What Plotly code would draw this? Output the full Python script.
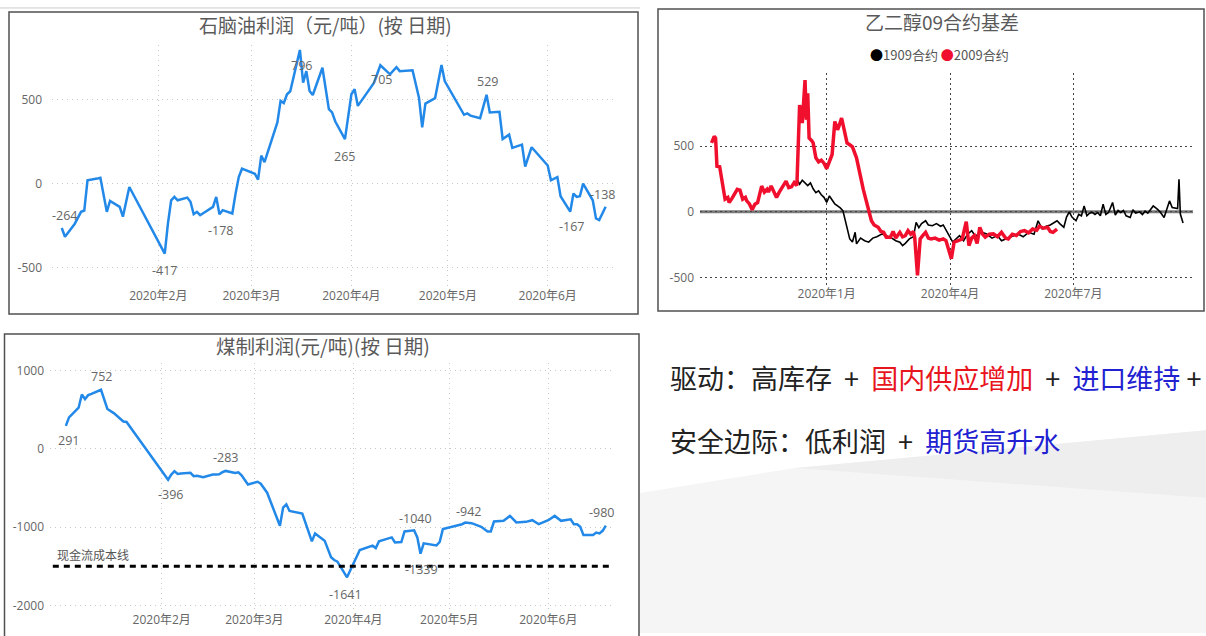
import plotly.graph_objects as go
import pandas as pd

W, H = 1206, 636

# ---------------- data ----------------
# 石脑油利润 (元/吨)
naphtha_dates = [
    "2020-01-02", "2020-01-03", "2020-01-06", "2020-01-07", "2020-01-08", "2020-01-09", "2020-01-10", "2020-01-13", "2020-01-14", "2020-01-16",
    "2020-01-17", "2020-01-20", "2020-01-21", "2020-01-23", "2020-02-03", "2020-02-04", "2020-02-05", "2020-02-06", "2020-02-07", "2020-02-10",
    "2020-02-11", "2020-02-12", "2020-02-13", "2020-02-14", "2020-02-17", "2020-02-18", "2020-02-19", "2020-02-20", "2020-02-21", "2020-02-24",
    "2020-02-25", "2020-02-26", "2020-02-27", "2020-03-02", "2020-03-03", "2020-03-04", "2020-03-05", "2020-03-09", "2020-03-10", "2020-03-11",
    "2020-03-12", "2020-03-13", "2020-03-16", "2020-03-17", "2020-03-18", "2020-03-19", "2020-03-20", "2020-03-23", "2020-03-25", "2020-03-26",
    "2020-03-27", "2020-03-30", "2020-04-01", "2020-04-02", "2020-04-03", "2020-04-07", "2020-04-08", "2020-04-10", "2020-04-13", "2020-04-15",
    "2020-04-16", "2020-04-20", "2020-04-22", "2020-04-23", "2020-04-24", "2020-04-27", "2020-04-29", "2020-04-30", "2020-05-06", "2020-05-07",
    "2020-05-08", "2020-05-11", "2020-05-13", "2020-05-14", "2020-05-17", "2020-05-18", "2020-05-20", "2020-05-21", "2020-05-24", "2020-05-25",
    "2020-05-27", "2020-06-01", "2020-06-02", "2020-06-04", "2020-06-05", "2020-06-08", "2020-06-09", "2020-06-10", "2020-06-11", "2020-06-12",
    "2020-06-15", "2020-06-16", "2020-06-17", "2020-06-19",
]
naphtha_values = [
    -264, -316, -240, -200, -168, -160, 20, 30, 35, -168,
    -103, -138, -197, -20, -417, -237, -99, -79, -99, -83,
    -108, -182, -168, -188, -148, -138, -79, -182, -158, -178,
    -60, 39, 89, 59, 24, 167, 128, 365, 493, 480,
    532, 550, 796, 601, 670, 552, 528, 690, 444, 424,
    370, 265, 532, 562, 463, 572, 600, 705, 651, 694,
    670, 675, 512, 335, 477, 509, 706, 611, 410, 418,
    405, 390, 529, 424, 428, 266, 292, 213, 232, 102,
    217, 108, 20, 39, -75, -167, -59, -79, -75, 0,
    -99, -207, -217, -138,
]

# 煤制利润 (元/吨)
coal_dates = [
    "2020-01-02", "2020-01-03", "2020-01-06", "2020-01-07", "2020-01-08", "2020-01-09", "2020-01-10", "2020-01-13", "2020-01-15", "2020-01-17",
    "2020-01-20", "2020-01-21", "2020-02-03", "2020-02-04", "2020-02-05", "2020-02-06", "2020-02-07", "2020-02-10", "2020-02-11", "2020-02-12",
    "2020-02-14", "2020-02-17", "2020-02-18", "2020-02-19", "2020-02-20", "2020-02-21", "2020-02-24", "2020-02-25", "2020-02-26", "2020-02-28",
    "2020-03-02", "2020-03-03", "2020-03-05", "2020-03-09", "2020-03-10", "2020-03-11", "2020-03-12", "2020-03-13", "2020-03-16", "2020-03-19",
    "2020-03-20", "2020-03-23", "2020-03-25", "2020-03-26", "2020-03-27", "2020-03-30", "2020-03-31", "2020-04-03", "2020-04-07", "2020-04-08",
    "2020-04-09", "2020-04-13", "2020-04-14", "2020-04-16", "2020-04-17", "2020-04-20", "2020-04-21", "2020-04-22", "2020-04-23", "2020-04-27",
    "2020-04-28", "2020-04-29", "2020-05-05", "2020-05-06", "2020-05-08", "2020-05-11", "2020-05-13", "2020-05-14", "2020-05-15", "2020-05-18",
    "2020-05-20", "2020-05-22", "2020-05-25", "2020-05-27", "2020-05-29", "2020-06-01", "2020-06-03", "2020-06-05", "2020-06-08", "2020-06-09",
    "2020-06-10", "2020-06-11", "2020-06-12", "2020-06-15", "2020-06-16", "2020-06-17", "2020-06-18", "2020-06-19",
]
coal_values = [
    291, 400, 524, 693, 634, 684, 700, 752, 507, 455,
    347, 342, -396, -330, -287, -321, -315, -308, -350, -345,
    -363, -329, -330, -325, -300, -283, -308, -300, -338, -456,
    -422, -447, -561, -983, -751, -709, -793, -800, -827, -1182,
    -1081, -1173, -1385, -1420, -1440, -1641, -1553, -1292, -1237, -1267,
    -1182, -1131, -1195, -1190, -1055, -1040, -1131, -1339, -1207, -1233,
    -1190, -1026, -963, -942, -950, -996, -1055, -1055, -929, -920,
    -857, -941, -933, -912, -963, -912, -857, -920, -900, -963,
    -963, -996, -1102, -1102, -1070, -1080, -1047, -980,
]
cash_cost_line = -1500

# 乙二醇09合约基差
basis2009_dates = [
    "2019-10-08", "2019-10-10", "2019-10-11", "2019-10-12", "2019-10-14", "2019-10-16", "2019-10-18", "2019-10-20", "2019-10-21", "2019-10-23",
    "2019-10-24", "2019-10-27", "2019-10-29", "2019-10-31", "2019-11-02", "2019-11-03", "2019-11-05", "2019-11-07", "2019-11-09", "2019-11-11",
    "2019-11-14", "2019-11-16", "2019-11-18", "2019-11-19", "2019-11-21", "2019-11-23", "2019-11-25", "2019-11-27", "2019-11-29", "2019-12-02",
    "2019-12-04", "2019-12-06", "2019-12-08", "2019-12-10", "2019-12-12", "2019-12-14", "2019-12-16", "2019-12-17", "2019-12-18", "2019-12-19",
    "2019-12-21", "2019-12-22", "2019-12-24", "2019-12-26", "2019-12-28", "2019-12-30", "2020-01-01", "2020-01-03", "2020-01-05", "2020-01-07",
    "2020-01-09", "2020-01-10", "2020-01-12", "2020-01-14", "2020-01-16", "2020-01-18", "2020-01-20", "2020-01-23", "2020-01-28", "2020-02-03",
    "2020-02-05", "2020-02-08", "2020-02-10", "2020-02-12", "2020-02-14", "2020-02-17", "2020-02-19", "2020-02-21", "2020-02-24", "2020-02-26",
    "2020-02-28", "2020-03-01", "2020-03-03", "2020-03-05", "2020-03-06", "2020-03-08", "2020-03-09", "2020-03-10", "2020-03-12", "2020-03-14",
    "2020-03-16", "2020-03-18", "2020-03-21", "2020-03-24", "2020-03-27", "2020-03-29", "2020-04-02", "2020-04-04", "2020-04-07", "2020-04-10",
    "2020-04-13", "2020-04-15", "2020-04-17", "2020-04-19", "2020-04-21", "2020-04-23", "2020-04-25", "2020-04-27", "2020-04-30", "2020-05-03",
    "2020-05-06", "2020-05-09", "2020-05-12", "2020-05-14", "2020-05-17", "2020-05-20", "2020-05-23", "2020-05-26", "2020-05-29", "2020-06-01",
    "2020-06-04", "2020-06-06", "2020-06-09", "2020-06-12", "2020-06-14", "2020-06-16", "2020-06-19",
]
basis2009_values = [
    524, 574, 560, 347, 343, 200, 96, 109, 71, 100,
    121, 171, 165, 96, 110, 83, 60, 15, 58, 70,
    196, 150, 171, 150, 196, 150, 109, 150, 184, 234,
    184, 190, 222, 200, 813, 675, 1002, 700, 902, 562,
    540, 524, 411, 380, 393, 370, 328, 380, 436, 687,
    624, 650, 713, 620, 524, 510, 494, 411, 170, -68,
    -100, -118, -150, -156, -193, -193, -150, -200, -156, -190,
    -181, -143, -170, -150, -200, -483, -300, -206, -180, -156,
    -200, -206, -200, -215, -206, -219, -357, -231, -220, -206,
    -75, -257, -200, -181, -240, -118, -170, -193, -170, -168,
    -190, -156, -200, -206, -170, -180, -150, -143, -160, -131,
    -140, -110, -125, -118, -150, -156, -131,
]
basis1909_dates = [
    "2019-12-10", "2019-12-12", "2019-12-14", "2019-12-16", "2019-12-18", "2019-12-20", "2019-12-22", "2019-12-24", "2019-12-26", "2019-12-28",
    "2019-12-30", "2020-01-01", "2020-01-03", "2020-01-05", "2020-01-07", "2020-01-09", "2020-01-11", "2020-01-13", "2020-01-15", "2020-01-18",
    "2020-01-20", "2020-01-22", "2020-01-23", "2020-01-26", "2020-01-29", "2020-02-01", "2020-02-04", "2020-02-07", "2020-02-11", "2020-02-14",
    "2020-02-18", "2020-02-21", "2020-02-24", "2020-02-26", "2020-02-28", "2020-03-02", "2020-03-05", "2020-03-07", "2020-03-09", "2020-03-11",
    "2020-03-14", "2020-03-16", "2020-03-19", "2020-03-22", "2020-03-25", "2020-03-27", "2020-03-30", "2020-04-01", "2020-04-03", "2020-04-06",
    "2020-04-08", "2020-04-11", "2020-04-14", "2020-04-17", "2020-04-20", "2020-04-23", "2020-04-28", "2020-05-02", "2020-05-06", "2020-05-09",
    "2020-05-12", "2020-05-15", "2020-05-18", "2020-05-21", "2020-05-25", "2020-05-29", "2020-06-02", "2020-06-05", "2020-06-08", "2020-06-11",
    "2020-06-14", "2020-06-17", "2020-06-19", "2020-06-21", "2020-06-24", "2020-06-26", "2020-06-28", "2020-06-30", "2020-07-03", "2020-07-05",
    "2020-07-07", "2020-07-09", "2020-07-11", "2020-07-13", "2020-07-15", "2020-07-17", "2020-07-19", "2020-07-21", "2020-07-23", "2020-07-25",
    "2020-07-27", "2020-07-30", "2020-08-01", "2020-08-03", "2020-08-05", "2020-08-07", "2020-08-09", "2020-08-12", "2020-08-14", "2020-08-16",
    "2020-08-19", "2020-08-21", "2020-08-23", "2020-08-25", "2020-08-27", "2020-08-29", "2020-09-01", "2020-09-03", "2020-09-06", "2020-09-08",
    "2020-09-10", "2020-09-12", "2020-09-14", "2020-09-16", "2020-09-17", "2020-09-18", "2020-09-20",
]
basis1909_values = [
    247, 210, 240, 222, 200, 220, 175, 146, 160, 130,
    110, 71, 121, 90, 60, 45, 30, 8, -80, -206,
    -230, -156, -244, -200, -220, -231, -200, -190, -168, -180,
    -200, -220, -231, -257, -240, -206, -190, -80, -120, -90,
    -68, -100, -106, -90, -110, -100, -150, -193, -230, -200,
    -181, -220, -170, -143, -190, -150, -168, -200, -181, -220,
    -206, -190, -180, -168, -190, -156, -170, -68, -130, -110,
    -100, -80, -68, -90, -118, -40, 0, -40, -68, -20,
    -30, 45, -30, -10, -5, -20, -5, -30, 58, -20,
    -5, 71, -25, 10, -5, 10, -30, -43, 15, -10,
    0, -20, 5, -10, 20, 45, 20, 0, -43, 20,
    83, 33, 30, 25, 247, -17, -85,
]

# axis ticks
profit_month_ticks = ["2020-02-01", "2020-03-01", "2020-04-01", "2020-05-01", "2020-06-01"]
profit_month_labels = ["2020年2月", "2020年3月", "2020年4月", "2020年5月", "2020年6月"]
basis_month_ticks = ["2020-01-01", "2020-04-01", "2020-07-01"]
basis_month_labels = ["2020年1月", "2020年4月", "2020年7月"]
naphtha_yticks = [500, 0, -500]
basis_yticks = [500, 0, -500]
coal_yticks = [1000, 0, -1000, -2000]

# ---------------- styling / layout helpers ----------------
BLUE = "#2389e8"
RED = "#f0102e"
BLACK = "#000000"
TXT = "#666666"
NUM_FONT = "Open Sans, Noto Sans CJK SC, sans-serif"
CJK_FONT = "Noto Sans CJK SC, sans-serif"
NB = "\u00a0"


def fx(p):
    return p / W


def fy(p):
    return 1 - p / H


def val_range(v1, p1, v2, p2, top, bottom):
    k = (v1 - v2) / (p2 - p1)
    return [v1 - (bottom - p1) * k, v1 + (p1 - top) * k]


def date_range(d1, p1, d2, p2, left, right):
    t1, t2 = pd.Timestamp(d1), pd.Timestamp(d2)
    step = (t2 - t1) / (p2 - p1)
    fmt = "%Y-%m-%d %H:%M:%S"
    return [(t1 - step * (p1 - left)).strftime(fmt), (t1 + step * (right - p1)).strftime(fmt)]


# panel plot areas (pixels) and axis calibration
P1 = dict(left=52, right=613, top=44, bottom=288)
P2 = dict(left=700, right=1193, top=72, bottom=286)
P3 = dict(left=50, right=613, top=364, bottom=614)

x1_range = date_range("2020-02-01", 158.3, "2020-06-01", 547.7, P1["left"], P1["right"])
y1_range = val_range(500, 99.3, -500, 268.3, P1["top"], P1["bottom"])
x2_range = date_range("2020-01-01", 826.7, "2020-07-01", 1073.3, P2["left"], P2["right"])
y2_range = val_range(500, 146.0, -500, 278.3, P2["top"], P2["bottom"])
x3_range = date_range("2020-02-01", 161.7, "2020-06-01", 548.3, P3["left"], P3["right"])
y3_range = val_range(1000, 371.7, -2000, 608.3, P3["top"], P3["bottom"])


def xaxis(geo, rng, vals, text, grid, anchor, dash):
    return dict(domain=[fx(geo["left"]), fx(geo["right"])], range=rng, type="date",
                tickmode="array", tickvals=vals, ticktext=text, anchor=anchor,
                showgrid=True, gridcolor=grid, griddash=dash, gridwidth=1,
                zeroline=False, showline=False, ticks="", fixedrange=True,
                tickfont=dict(family=NUM_FONT, size=12, color=TXT))


def yaxis(geo, rng, vals, grid, anchor, dash, standoff):
    return dict(domain=[fy(geo["bottom"]), fy(geo["top"])], range=rng,
                tickmode="array", tickvals=vals, ticktext=[str(v) for v in vals], anchor=anchor,
                showgrid=True, gridcolor=grid, griddash=dash, gridwidth=1,
                zeroline=False, showline=False, ticks="", fixedrange=True,
                ticklabelstandoff=standoff,
                tickfont=dict(family=NUM_FONT, size=12, color=TXT))


fig = go.Figure()

fig.add_trace(go.Scatter(x=naphtha_dates, y=naphtha_values, xaxis="x", yaxis="y", mode="lines",
                         line=dict(color=BLUE, width=2.5), hoverinfo="skip"))
fig.add_trace(go.Scatter(x=basis1909_dates, y=basis1909_values, xaxis="x2", yaxis="y2", mode="lines",
                         line=dict(color=BLACK, width=1.6), hoverinfo="skip"))
fig.add_trace(go.Scatter(x=basis2009_dates, y=basis2009_values, xaxis="x2", yaxis="y2", mode="lines",
                         line=dict(color=RED, width=3.5), hoverinfo="skip"))
fig.add_trace(go.Scatter(x=coal_dates, y=coal_values, xaxis="x3", yaxis="y3", mode="lines",
                         line=dict(color=BLUE, width=2.5), hoverinfo="skip"))

annotations = []


def add_point_labels(xref, yref, dates, values, picks):
    lookup = dict(zip(dates, values))
    for d, dx, dy in picks:
        v = lookup[d]
        annotations.append(dict(x=d, y=v, xref=xref, yref=yref, text=str(v), showarrow=False,
                                xanchor="center", yanchor="middle", xshift=dx, yshift=-dy,
                                font=dict(family=NUM_FONT, size=12.5, color=TXT)))


# (date, x offset px, y offset px downward)
add_point_labels("x", "y", naphtha_dates, naphtha_values, [
    ("2020-01-02", 3, -12), ("2020-02-03", 0, 17), ("2020-02-24", -12, 17),
    ("2020-03-16", 2, 16), ("2020-03-30", 0, 17), ("2020-04-10", 1, 14),
    ("2020-05-13", 1, -13), ("2020-06-08", 1, 15), ("2020-06-19", -3, -12),
])
add_point_labels("x3", "y3", coal_dates, coal_values, [
    ("2020-01-02", 3, 15), ("2020-01-13", 1, -13), ("2020-02-03", 2, 15),
    ("2020-02-21", 0, -13), ("2020-03-30", -2, 17), ("2020-04-20", 1, -12),
    ("2020-04-22", 1, 16), ("2020-05-06", 3, -11), ("2020-06-19", -4, -13),
])


def paper_text(x, y, text, size, color, xanchor="center"):
    return dict(x=fx(x), y=fy(y), xref="paper", yref="paper", text=text, showarrow=False,
                xanchor=xanchor, yanchor="middle",
                font=dict(family=CJK_FONT, size=size, color=color))


PLUS = NB + NB + "+" + NB + NB
annotations += [
    paper_text(325, 24, "石脑油利润（元/吨）(按 日期)", 19, "#5a5a5a"),
    paper_text(323, 347, "煤制利润(元/吨)(按 日期)", 19.5, "#5a5a5a"),
    paper_text(942, 21, "乙二醇09合约基差", 19, "#5a5a5a"),
    paper_text(939, 54, "<span style='color:#000000'>●</span>1909合约 "
                        "<span style='color:%s'>●</span>2009合约" % RED, 13, "#555555"),
    paper_text(55, 557, "现金流成本线", 12, "#555555", xanchor="left"),
    paper_text(668, 379, "驱动：高库存" + PLUS + "<span style='color:#e8141e'>国内供应增加</span>" + PLUS +
               "<span style='color:#2121d2'>进口维持</span>" + NB + "+", 27, "#222222", xanchor="left"),
    paper_text(668, 442, "安全边际：低利润" + PLUS + "<span style='color:#2121d2'>期货高升水</span>",
               27, "#222222", xanchor="left"),
]


def prect(x0, y0, x1, y1, color="#505050", width=1.5):
    return dict(type="rect", xref="paper", yref="paper", x0=fx(x0), x1=fx(x1), y0=fy(y1), y1=fy(y0),
                line=dict(color=color, width=width), fillcolor="rgba(0,0,0,0)", layer="above")


def ppath(points, fill):
    d = "M " + " L ".join("%f,%f" % (fx(a), fy(b)) for a, b in points) + " Z"
    return dict(type="path", xref="paper", yref="paper", path=d, fillcolor=fill,
                line=dict(width=0), layer="below")


shapes = [
    # slide background swoosh
    ppath([(640, 495), (795, 470), (1206, 432), (1206, 636), (640, 636)], "#f5f5f5"),
    ppath([(795, 470), (1206, 432), (1206, 500)], "#eeeeee"),
    # separator line above the first panel
    dict(type="line", xref="paper", yref="paper", x0=0, x1=fx(640), y0=fy(7), y1=fy(7),
         line=dict(color="#cccccc", width=1)),
    # panel frames
    prect(9, 11, 638, 315),
    prect(658, 8, 1204, 312),
    prect(4.5, 335, 639, 660),
    # zero basis line
    dict(type="line", xref="x2 domain", yref="y2", x0=0, x1=1, y0=0, y1=0,
         line=dict(color="#7a7a7a", width=3), layer="below"),
    # cash-flow cost line
    dict(type="line", xref="x3 domain", yref="y3", x0=0.005, x1=0.995, y0=cash_cost_line, y1=cash_cost_line,
         line=dict(color="#000000", width=3, dash="6px,5px"), layer="above"),
]

LIGHT_DOT = "1px,4px"
DARK_DOT = "2px,3px"

fig.update_layout(
    width=W, height=H, margin=dict(l=0, r=0, t=0, b=0),
    paper_bgcolor="white", plot_bgcolor="rgba(0,0,0,0)",
    showlegend=False, hovermode=False,
    xaxis=xaxis(P1, x1_range, profit_month_ticks, profit_month_labels, "#c8c8c8", "y", LIGHT_DOT),
    yaxis=yaxis(P1, y1_range, naphtha_yticks, "#c8c8c8", "x", LIGHT_DOT, 9),
    xaxis2=xaxis(P2, x2_range, basis_month_ticks, basis_month_labels, "#444444", "y2", DARK_DOT),
    yaxis2=yaxis(P2, y2_range, basis_yticks, "#444444", "x2", DARK_DOT, 5),
    xaxis3=xaxis(P3, x3_range, profit_month_ticks, profit_month_labels, "#c8c8c8", "y3", LIGHT_DOT),
    yaxis3=yaxis(P3, y3_range, coal_yticks, "#c8c8c8", "x3", LIGHT_DOT, 5),
    annotations=annotations,
    shapes=shapes,
)

fig.write_html("out.html")
